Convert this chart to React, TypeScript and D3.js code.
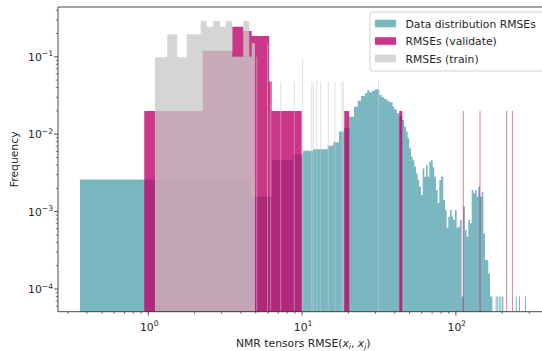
import React from 'react'
import * as d3 from 'd3'

// data distribution RMSEs (bin edges + frequency, 0 = empty bin)
const distEdges = [0.36, 4.58, 6.37, 8.73, 10.09, 11.77, 14.67, 15.95, 17.38, 18.81, 20.27, 21.76, 22.99, 24.15, 25.64, 26.54, 27.35, 28.48, 29.79, 31.77, 32.93, 34.09, 35.49, 36.90, 38.83, 39.77, 41.22, 42.85, 44.82, 46.18, 47.37, 48.59, 49.77, 51.06, 52.38, 53.64, 55.03, 56.44, 57.81, 59.31, 60.83, 62.30, 63.91, 65.56, 67.14, 68.88, 70.66, 72.37, 74.23, 76.15, 78.00, 80.01, 82.82, 84.95, 87.14, 89.25, 91.53, 93.91, 96.18, 98.65, 101.2, 103.7, 106.3, 109.1, 111.7, 114.6, 117.5, 120.4, 123.5, 126.7, 129.8, 133.1, 136.5, 139.8, 143.5, 147.2, 150.8, 154.6, 162.4, 166.6, 172.5, 181.5, 184.2, 185.9, 188.7, 191.5, 195.6, 198.6, 203.4, 244.8, 248.5, 257.2, 261.1, 281.4, 285.6]
const distFreq = [
  0.0026, 0.00156, 0.0046, 0.0055, 0.0061, 0.0064, 0.0071, 0.0079, 0.0108, 0.012,
  0.0168, 0.0227, 0.0271, 0.0312, 0.0338, 0.0373, 0.0348, 0.0361, 0.038, 0.0321,
  0.030, 0.0285, 0.0271, 0.0258, 0.0227, 0.021, 0.0186, 0.0172, 0.0153, 0.0125,
  0.0108, 0.00885, 0.00657, 0.00512, 0.0046, 0.0038, 0.0031, 0.00256, 0.0021, 0.00164,
  0.00363, 0.00282, 0.0040, 0.00282, 0.00441, 0.0046, 0.00374, 0.00282, 0.0019, 0.00129,
  0.00256, 0.00282, 0.00141, 0.00105, 0.000614, 0.00086, 0.00105, 0.00086, 0.00078, 0.00105,
  0.000614, 0.000638, 0.00078, 0.00008, 0.00116, 0.000579, 0.000474, 0.00078, 0.000706, 0.0019,
  0.00172, 0.0019, 0.00156, 0.0021, 0.00156, 0.00181, 0.000524, 0.000237, 0.000159, 0.00008,
  0, 0.00008, 0, 0.00008, 0, 0.00008, 0, 0.00008, 0, 0.00008, 0, 0.00008, 0, 0.00008,
]

// validate RMSEs
const valEdges = [0.942, 2.258, 3.517, 4.147, 4.702, 6.118, 6.344, 9.94, 18.81, 20.27, 42.85, 44.82]
const valFreq = [0.02, 0.12, 0.245, 0.215, 0.185, 0.048, 0.02, 0, 0.02, 0, 0.02]
const valLines = [111.7, 143.5, 214, 233]
const valLineFreq = [0.02, 0.02, 0.02, 0.02]

// train RMSEs
const trainEdges = [1.105, 1.329, 1.544, 1.777, 2.191, 2.397, 2.646, 2.925, 3.2, 3.517, 4.147, 4.536, 4.702, 4.941]
const trainFreq = [0.0985, 0.195, 0.0985, 0.195, 0.29, 0.245, 0.29, 0.245, 0.29, 0.1, 0.29, 0.1, 0.15]
const trainLines = [5.07, 5.96, 6.25, 7.26, 8.9, 10.09, 11.55, 11.83, 12.44, 13.21, 14.81, 16.37, 18.17, 18.53, 31.39]
const trainLineFreq = [0.1, 0.15, 0.048, 0.048, 0.048, 0.096, 0.048, 0.048, 0.048, 0.048, 0.048, 0.048, 0.048, 0.048, 0.048]

const xTickExps = [0, 1, 2]
const yTickExps = [-4, -3, -2, -1]
const legendLabels = ['Data distribution RMSEs', 'RMSEs (validate)', 'RMSEs (train)']

const TEAL = 'rgb(122,183,192)'
const MAG = 'rgb(190,0,104)'
const GRAY = 'rgb(200,202,198)'
const MAG_A = 0.79
const GRAY_A = 0.78
const FONT = 'DejaVu Sans, sans-serif'
const FS = 10.8

const x = d3.scaleLog().domain([0.259, 400]).range([58, 548.5])
const y = d3.scaleLog().domain([5.09e-5, 0.44]).range([311.7, 7])

const left = 58, right = 548.5, top = 7, bottom = 311.7

function histPath(edges: number[], freq: number[]) {
  const base = bottom + 2
  const p = d3.path()
  let open = false
  freq.forEach((f, i) => {
    if (!(f > 0)) return
    const x0 = x(edges[i]), x1 = x(edges[i + 1])
    const yt = y(f)
    if (!open) { p.moveTo(x0, base); open = true }
    p.lineTo(x0, yt)
    p.lineTo(x1, yt)
    if (i === freq.length - 1 || !(freq[i + 1] > 0)) {
      p.lineTo(x1, base)
      p.closePath()
      open = false
    }
  })
  return p.toString()
}

const isMajor = (v: number) => Math.abs(Math.log10(v) - Math.round(Math.log10(v))) < 1e-6

function App() {
  const xTicks = x.ticks(20).filter(v => !isMajor(v))
  const yTicks = y.ticks(20).filter(v => !isMajor(v))
  const legColors = [[TEAL, 1], [MAG, MAG_A], [GRAY, GRAY_A]]

  return (
    <svg width={542} height={351} style={{ position: 'absolute', left: 0, top: 0, background: '#fff' }}
      fontFamily={FONT}>
      <defs>
        <clipPath id="plot">
          <rect x={left} y={top} width={right - left} height={bottom - top} />
        </clipPath>
      </defs>
      <g clipPath="url(#plot)">
        <path d={histPath(distEdges, distFreq)} fill={TEAL} />
        <path d={histPath(valEdges, valFreq)} fill={MAG} fillOpacity={MAG_A} />
        {valLines.map((v, i) => (
          <line key={'v' + i} x1={x(v)} x2={x(v)} y1={bottom} y2={y(valLineFreq[i])}
            stroke={MAG} strokeOpacity={MAG_A * 0.75} strokeWidth={0.9} />
        ))}
        <path d={histPath(trainEdges, trainFreq)} fill={GRAY} fillOpacity={GRAY_A} />
        {trainLines.map((v, i) => (
          <line key={'t' + i} x1={x(v)} x2={x(v)} y1={bottom} y2={y(trainLineFreq[i])}
            stroke={GRAY} strokeOpacity={GRAY_A * 0.8} strokeWidth={0.9} />
        ))}
      </g>

      {/* spines */}
      <g stroke="#333" strokeWidth={0.9} fill="none">
        <line x1={left} x2={left} y1={top} y2={bottom} />
        <line x1={left} x2={right} y1={bottom} y2={bottom} />
        <line x1={left} x2={right} y1={top} y2={top} />
        <line x1={right} x2={right} y1={top} y2={bottom} />
      </g>

      {/* ticks */}
      <g stroke="#333">
        {xTicks.map((v, i) => (
          <line key={'xm' + i} x1={x(v)} x2={x(v)} y1={bottom} y2={bottom + 2.2} strokeWidth={0.65} />
        ))}
        {xTickExps.map(e => (
          <line key={'xM' + e} x1={x(10 ** e)} x2={x(10 ** e)} y1={bottom} y2={bottom + 3.8} strokeWidth={0.9} />
        ))}
        {yTicks.map((v, i) => (
          <line key={'ym' + i} x1={left} x2={left - 2.2} y1={y(v)} y2={y(v)} strokeWidth={0.65} />
        ))}
        {yTickExps.map(e => (
          <line key={'yM' + e} x1={left} x2={left - 3.8} y1={y(10 ** e)} y2={y(10 ** e)} strokeWidth={0.9} />
        ))}
      </g>

      <g fill="#262626" fontSize={FS}>
        {xTickExps.map(e => (
          <text key={'xl' + e} x={x(10 ** e) + 1} y={331} textAnchor="middle">
            10<tspan fontSize={7.6} dy={-4.6}>{String(e)}</tspan>
          </text>
        ))}
        {yTickExps.map(e => (
          <text key={'yl' + e} x={53} y={y(10 ** e) + 4.2} textAnchor="end">
            10<tspan fontSize={7.6} dy={-4.6}>{'\u2212' + Math.abs(e)}</tspan>
          </text>
        ))}
        <text x={(left + right) / 2} y={347} textAnchor="middle">
          NMR tensors RMSE(<tspan fontStyle="italic">x</tspan>
          <tspan fontStyle="italic" fontSize={7.6} dy={2.2}>i</tspan>
          <tspan dy={-2.2}>, </tspan>
          <tspan fontStyle="italic">x</tspan>
          <tspan fontStyle="italic" fontSize={7.6} dy={2.2}>j</tspan>
          <tspan dy={-2.2}>)</tspan>
        </text>
        <text transform={`translate(18,${(top + bottom) / 2}) rotate(-90)`} textAnchor="middle">Frequency</text>
      </g>

      {/* legend */}
      <g>
        <rect x={370} y={12} width={175} height={59} rx={2.5} fill="#fff" fillOpacity={0.8}
          stroke="#cccccc" strokeWidth={0.9} />
        {legendLabels.map((lab, i) => {
          const cy = 23.5 + i * 17.5
          const [c, a] = legColors[i]
          return (
            <g key={lab}>
              <rect x={375} y={cy - 3.8} width={21} height={7.6} fill={c as string} fillOpacity={a as number} />
              <text x={405.5} y={cy + 4} fontSize={FS} fill="#262626">{lab}</text>
            </g>
          )
        })}
      </g>
    </svg>
  )
}

export default App
